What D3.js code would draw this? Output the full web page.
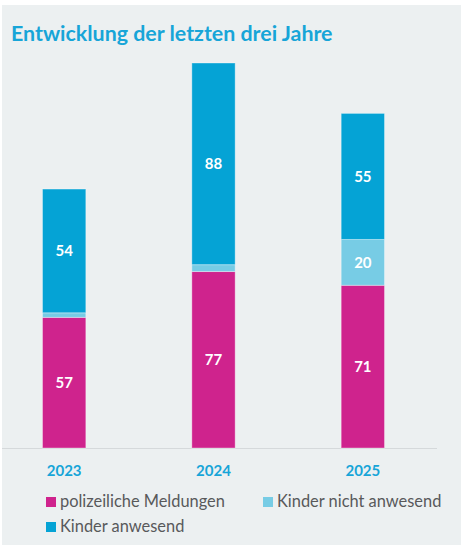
<!DOCTYPE html>
<meta charset="utf-8">
<style>
  body { margin: 0; background: #fff; }
  svg { display: block; font-family: Lato, "Open Sans", sans-serif; }
</style>
<script src="https://d3js.org/d3.v7.min.js"></script>
<div id="chart"></div>
<script>
  // data
  var years = ["2023", "2024", "2025"];
  var seriesNames = ["polizeiliche Meldungen", "Kinder nicht anwesend", "Kinder anwesend"];
  var polizeiliche = [57, 77, 71];
  var nichtAnwesend = [2, 3, 20];
  var anwesend = [54, 88, 55];
  var colors = ["#cf238d", "#77cce5", "#05a3d5"];

  var W = 463, H = 547;
  var baseY = 448, plotTop = 63;

  var svg = d3.select("#chart").append("svg")
    .attr("width", W)
    .attr("height", H);

  // panel background
  svg.append("rect")
    .attr("x", 2).attr("y", 5)
    .attr("width", 459).attr("height", 540)
    .attr("fill", "#ecf0f1");

  // title
  svg.append("text")
    .attr("x", 11).attr("y", 41)
    .attr("fill", "#17a5d8")
    .style("font-size", "21.4px")
    .style("font-weight", 700)
    .text("Entwicklung der letzten drei Jahre");

  var rows = years.map(function (y, i) {
    return { year: y, p: polizeiliche[i], n: nichtAnwesend[i], a: anwesend[i] };
  });
  var stack = d3.stack().keys(["p", "n", "a"])(rows);

  var x = d3.scaleBand()
    .domain(years)
    .range([-10.5, 437.5])
    .paddingInner(0.71)
    .paddingOuter(0.355);

  var y = d3.scaleLinear()
    .domain([0, 168])
    .range([baseY, plotTop]);

  // axis baseline
  svg.append("line")
    .attr("x1", 2).attr("x2", 437)
    .attr("y1", baseY + 0.5).attr("y2", baseY + 0.5)
    .attr("stroke", "#d5d9db")
    .attr("stroke-width", 1);

  var groups = svg.append("g").selectAll("g")
    .data(stack)
    .join("g")
    .attr("fill", function (d, i) { return colors[i]; });

  groups.selectAll("rect")
    .data(function (d) { return d; })
    .join("rect")
    .attr("x", function (d) { return x(d.data.year); })
    .attr("y", function (d) { return y(d[1]); })
    .attr("width", x.bandwidth())
    .attr("height", function (d) { return y(d[0]) - y(d[1]); })
    .attr("stroke", "rgba(255,255,255,0.35)")
    .attr("stroke-width", 1);

  // value labels
  groups.selectAll("text")
    .data(function (d) { return d.filter(function (e) { return e[1] - e[0] >= 10; }); })
    .join("text")
    .attr("x", function (d) { return x(d.data.year) + x.bandwidth() / 2; })
    .attr("y", function (d) { return (y(d[0]) + y(d[1])) / 2; })
    .attr("dy", "0.36em")
    .attr("text-anchor", "middle")
    .attr("fill", "#fff")
    .style("font-size", "15px")
    .style("font-weight", 700)
    .text(function (d) { return d[1] - d[0]; });

  // x axis labels
  var xAxis = svg.append("g")
    .attr("transform", "translate(0," + baseY + ")")
    .call(d3.axisBottom(x).tickSize(0).tickPadding(17));
  xAxis.select(".domain").remove();
  xAxis.selectAll("text")
    .attr("fill", "#17a5d8")
    .style("font-family", "Lato, sans-serif")
    .style("font-size", "15px")
    .style("font-weight", 700);

  // legend
  var legendPos = [[46, 497], [263, 497], [46, 522]];
  var legend = svg.append("g").selectAll("g")
    .data(seriesNames)
    .join("g")
    .attr("transform", function (d, i) { return "translate(" + legendPos[i][0] + "," + legendPos[i][1] + ")"; });
  legend.append("rect")
    .attr("width", 10).attr("height", 10)
    .attr("fill", function (d, i) { return colors[i]; });
  legend.append("text")
    .attr("x", 14).attr("y", 10)
    .attr("fill", "#58595b")
    .style("font-size", "16.4px")
    .text(function (d) { return d; });
</script>
